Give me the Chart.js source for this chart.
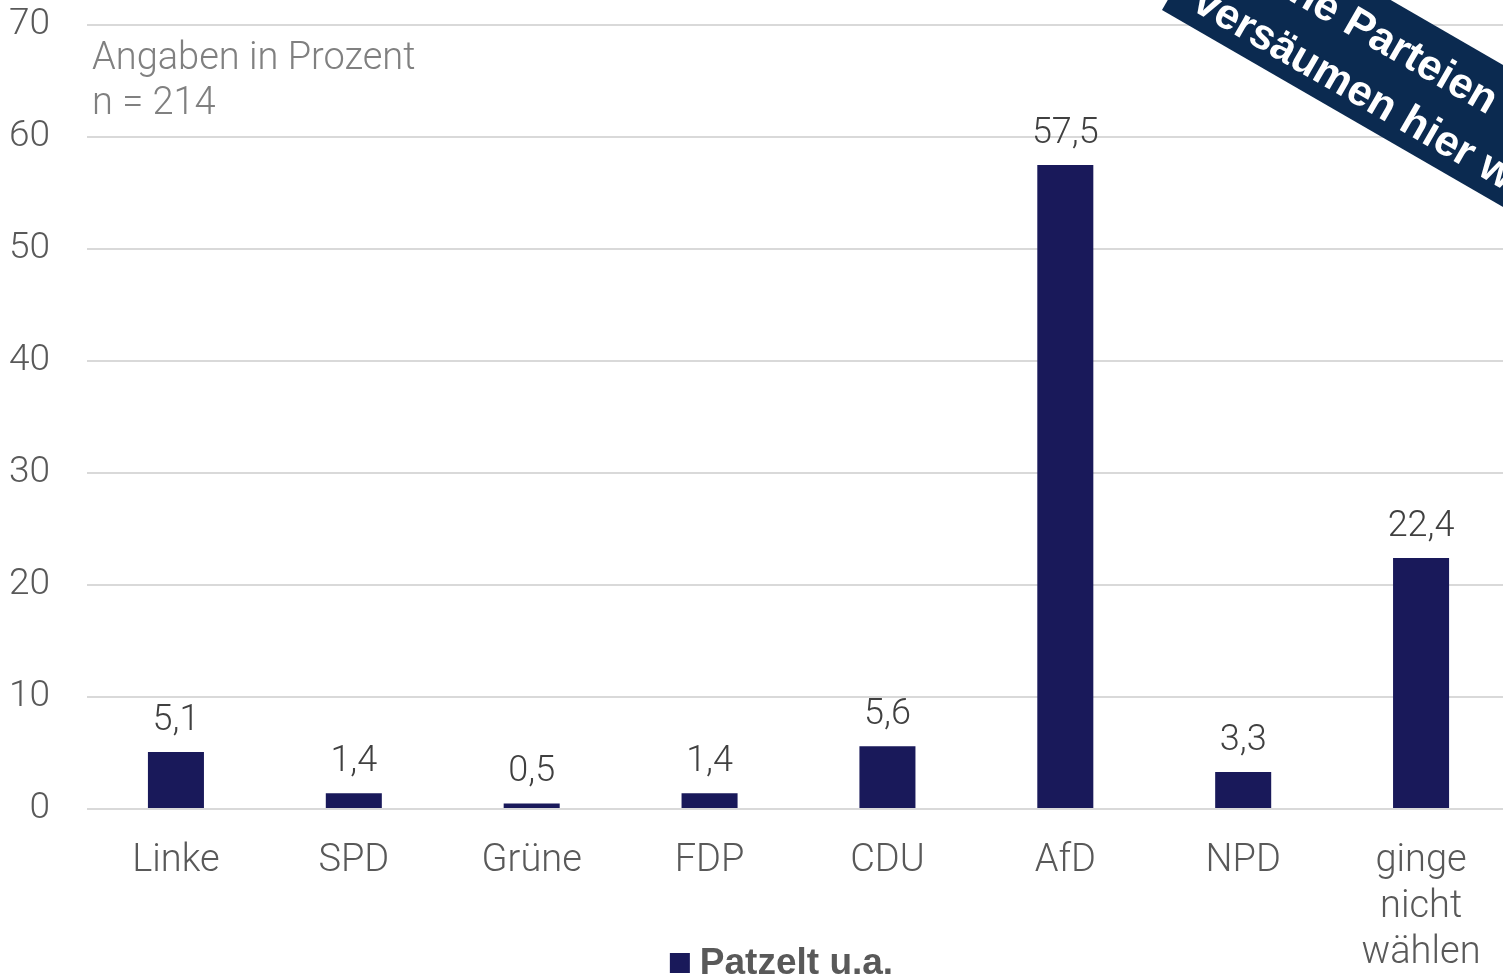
<!DOCTYPE html>
<html>
<head>
<meta charset="utf-8">
<script src="https://cdn.jsdelivr.net/npm/chart.js@4"></script>
<style>
  html, body { margin: 0; padding: 0; background: #fff; overflow: hidden; }
  #wrap { position: relative; width: 1510px; height: 977px; }
</style>
</head>
<body>
<div id="wrap"><canvas id="chart" width="1510" height="977"></canvas></div>
<script>
// Wahlabsicht (Patzelt u.a.), Angaben in Prozent
const categories = ['Linke', 'SPD', 'Grüne', 'FDP', 'CDU', 'AfD', 'NPD', ['ginge', 'nicht', 'wählen']];
const values = [5.1, 1.4, 0.5, 1.4, 5.6, 57.5, 3.3, 22.4];
const seriesName = 'Patzelt u.a.';
const noteLines = ['Angaben in Prozent', 'n = 214'];
const bannerLines = ['Kleine Parteien', 'versäumen hier was'];

const lightFont = 'Roboto, "Liberation Sans", sans-serif';
const boldFont = '"Liberation Sans", Arial, sans-serif';

// value labels above the bars, comma as decimal sign
const valueLabels = {
    id: 'valueLabels',
    afterDatasetsDraw(chart) {
        const ctx = chart.ctx;
        const meta = chart.getDatasetMeta(0);
        ctx.save();
        ctx.font = '300 36px ' + lightFont;
        ctx.fillStyle = '#404040';
        ctx.textAlign = 'center';
        ctx.textBaseline = 'middle';
        meta.data.forEach((bar, i) => {
            const txt = String(chart.data.datasets[0].data[i]).replace('.', ',');
            ctx.fillText(txt, bar.x, bar.y - 31);
        });
        ctx.restore();
    }
};

// note, legend and the corner banner
const extras = {
    id: 'extras',
    afterDraw(chart) {
        const ctx = chart.ctx;
        const area = chart.chartArea;
        ctx.save();

        ctx.font = '300 38px ' + lightFont;
        ctx.fillStyle = '#808080';
        ctx.textAlign = 'left';
        ctx.textBaseline = 'middle';
        noteLines.forEach((t, i) => ctx.fillText(t, area.left + 5, 59 + i * 45));

        // legend
        const ds = chart.data.datasets[0];
        ctx.font = 'bold 37px ' + boldFont;
        const tw = ctx.measureText(ds.label).width;
        const total = 20 + 10 + tw;
        const lx = (area.left + area.right) / 2 - 17 - total / 2;
        ctx.fillStyle = ds.backgroundColor;
        ctx.fillRect(lx, 953, 20, 20);
        ctx.fillStyle = '#595959';
        ctx.textBaseline = 'alphabetic';
        ctx.fillText(ds.label, lx + 30, 974);

        // banner
        ctx.translate(1162, 10);
        ctx.rotate(30 * Math.PI / 180);
        ctx.fillStyle = '#0b2a50';
        ctx.fillRect(0, -123, 760, 123);
        ctx.fillStyle = '#ffffff';
        ctx.font = 'bold 43px ' + boldFont;
        ctx.textAlign = 'left';
        ctx.textBaseline = 'alphabetic';
        ctx.fillText(bannerLines[0], 24, -72);
        ctx.fillText(bannerLines[1], 24, -15);

        ctx.restore();
    }
};

new Chart(document.getElementById('chart').getContext('2d'), {
    type: 'bar',
    data: {
        labels: categories,
        datasets: [{
            label: seriesName,
            data: values,
            backgroundColor: '#19195a',
            borderWidth: 0,
            categoryPercentage: 1,
            barPercentage: 0.315
        }]
    },
    options: {
        responsive: false,
        animation: false,
        devicePixelRatio: 1,
        layout: { padding: { top: 25, left: 0, right: 0, bottom: 0 } },
        plugins: {
            legend: { display: false },
            tooltip: { enabled: false }
        },
        scales: {
            x: {
                grid: { display: false },
                border: { display: false },
                ticks: {
                    color: '#595959',
                    padding: 21,
                    maxRotation: 0,
                    autoSkip: false,
                    font: { family: lightFont, size: 38, weight: 300, lineHeight: 46 / 38 }
                },
                afterFit(scale) {
                    scale.height = 168;
                    scale.paddingLeft = 0;
                    scale.paddingRight = 0;
                    scale.paddingTop = 0;
                    scale.paddingBottom = 0;
                }
            },
            y: {
                min: 0,
                max: 70,
                grid: { color: '#d9d9d9', lineWidth: 2, drawTicks: false },
                border: { display: false },
                ticks: {
                    stepSize: 10,
                    color: '#595959',
                    padding: 37,
                    font: { family: lightFont, size: 37, weight: 300 }
                },
                afterFit(scale) {
                    scale.width = 87;
                    scale.paddingTop = 0;
                    scale.paddingBottom = 0;
                }
            }
        }
    },
    plugins: [valueLabels, extras]
});
</script>
</body>
</html>
